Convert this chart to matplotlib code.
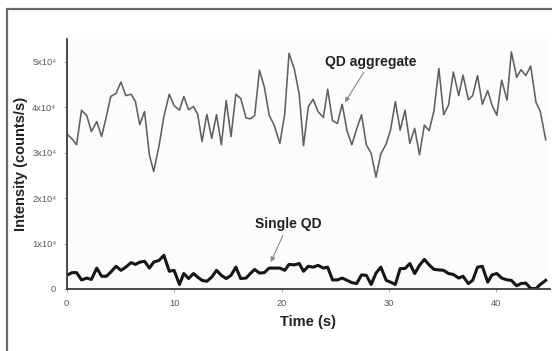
import matplotlib
matplotlib.use("Agg")
import matplotlib.pyplot as plt
from matplotlib.patches import Rectangle

plt.rcParams['font.family'] = ['Liberation Sans', 'DejaVu Sans']

# Time axis (s)
time_s = [0, 0.5, 0.92, 1.38, 1.87, 2.3, 2.8, 3.25, 3.7, 4.1, 4.6, 5.05, 5.5, 6.0, 6.4,
          6.8, 7.25, 7.7, 8.1, 8.6, 9.05, 9.55, 10.0, 10.5, 10.9, 11.35, 11.8, 12.2,
          12.6, 13.05, 13.5, 13.95, 14.4, 14.85, 15.3, 15.75, 16.2, 16.7, 17.1, 17.5,
          17.95, 18.4, 18.85, 19.3, 19.85, 20.3, 20.7, 21.2, 21.65, 22.05, 22.5, 22.95,
          23.4, 23.9, 24.3, 24.75, 25.2, 25.65, 26.1, 26.55, 27.0, 27.45, 27.9, 28.35,
          28.8, 29.25, 29.75, 30.15, 30.6, 31.05, 31.5, 31.95, 32.4, 32.85, 33.3, 33.75,
          34.2, 34.65, 35.1, 35.55, 36.0, 36.5, 36.9, 37.4, 37.8, 38.25, 38.7, 39.2,
          39.6, 40.05, 40.5, 41.0, 41.4, 41.9, 42.3, 42.75, 43.2, 43.7, 44.1, 44.6]

# Intensity, thousands of counts/s
aggregate_k = [34.1, 33.0, 31.7, 39.3, 38.1, 34.6, 36.8, 33.5, 38.0, 42.3, 43.0, 45.5,
               42.5, 42.8, 41.2, 36.1, 39.0, 29.5, 25.8, 31.5, 37.9, 42.8, 40.3, 39.3,
               42.3, 39.4, 40.1, 38.4, 32.4, 38.4, 33.1, 38.3, 31.7, 41.4, 33.5, 42.8,
               41.9, 37.6, 37.4, 38.1, 48.1, 44.4, 38.2, 36.1, 32.0, 38.5, 51.8, 48.3,
               42.8, 31.5, 40.1, 41.7, 39.0, 37.7, 43.9, 37.0, 36.4, 40.6, 34.8, 31.7,
               35.2, 38.3, 31.7, 29.8, 24.6, 29.7, 31.9, 34.9, 41.2, 34.9, 39.3, 32.0,
               35.3, 29.5, 36.0, 34.8, 39.2, 48.5, 38.3, 40.4, 47.7, 42.5, 47.0, 41.6,
               42.5, 46.9, 40.6, 43.6, 40.4, 38.2, 45.9, 41.5, 52.1, 46.5, 48.2, 46.9,
               49.0, 41.0, 39.0, 32.8]

single_k = [3.0, 3.6, 3.6, 2.0, 2.4, 2.1, 4.6, 2.8, 2.8, 3.7, 5.0, 4.1, 4.8, 5.8, 5.4,
            5.9, 6.1, 4.6, 5.9, 6.3, 7.4, 3.9, 4.1, 1.0, 3.4, 2.3, 3.4, 2.6, 1.9, 1.7,
            2.6, 4.1, 3.0, 2.3, 3.0, 4.8, 2.3, 2.4, 3.4, 4.3, 3.5, 3.6, 4.6, 4.6, 4.6,
            4.1, 5.4, 5.3, 5.6, 3.9, 5.0, 4.8, 5.2, 4.6, 4.8, 2.0, 2.0, 2.4, 1.9, 1.4,
            1.2, 3.1, 3.0, 1.0, 3.5, 4.8, 1.9, 1.5, 1.0, 4.5, 4.5, 5.6, 3.4, 5.2, 6.5,
            5.3, 4.3, 4.2, 4.1, 3.4, 3.2, 2.4, 2.8, 1.2, 1.9, 4.8, 5.0, 1.5, 3.1, 3.4,
            2.4, 2.0, 1.9, 0.7, 1.2, 1.3, 0.1, 0.1, 1.0, 1.9]

y_ticks = [0, 10000, 20000, 30000, 40000, 50000]
y_tick_labels = ["0", "1x10⁴", "2x10⁴", "3x10⁴", "4x10⁴", "5x10⁴"]
x_ticks = [0, 10, 20, 30, 40]

aggregate = [v * 1000 for v in aggregate_k]
single = [v * 1000 for v in single_k]

fig = plt.figure(figsize=(5.52, 3.51), dpi=100)
fig.patch.set_facecolor("white")

# grey frame around the figure
fig.patches.append(Rectangle((7 / 552, -0.1), 1.2, 1 - 9 / 351 + 0.1,
                             transform=fig.transFigure, fill=False,
                             edgecolor="#6a6a6a", linewidth=1.6))

ax = fig.add_axes([66.7 / 552, 1 - 289 / 351, (550 - 66.7) / 552, (289 - 38.75) / 351])
ax.set_facecolor("#fcfcfc")

ax.plot(time_s, aggregate, color="#606060", linewidth=1.15)
ax.plot(time_s, single, color="#151515", linewidth=2.2)

ax.set_xlim(0, 45)
ax.set_ylim(0, 55000)

for side in ("top", "right"):
    ax.spines[side].set_visible(False)
for side in ("left", "bottom"):
    ax.spines[side].set_color("#3a3a3a")
    ax.spines[side].set_linewidth(1.3)

ax.set_yticks(y_ticks)
ax.set_yticklabels(y_tick_labels)
ax.set_xticks(x_ticks)
ax.tick_params(axis="both", colors="#9a9a9a", labelcolor="#5a5a5a",
               labelsize=6.7, length=2.5, width=0.6)
ax.tick_params(axis="y", pad=5)
ax.tick_params(axis="x", pad=5)

ax.set_xlabel("Time (s)", fontsize=10.5, fontweight="bold", color="#222222", labelpad=5)
ax.set_ylabel("Intensity (counts/s)", fontsize=10.5, fontweight="bold",
              color="#222222", labelpad=3)

arrow_style = dict(arrowstyle="-|>", color="#8a8a8a", lw=0.8,
                   mutation_scale=7, shrinkA=1, shrinkB=0)
ax.annotate("QD aggregate", xy=(25.9, 41000), xytext=(28.3, 50000),
            ha="center", va="center", fontsize=10, fontweight="bold",
            color="#222222", arrowprops=arrow_style)
ax.annotate("Single QD", xy=(19.0, 5900), xytext=(20.6, 14200),
            ha="center", va="center", fontsize=10, fontweight="bold",
            color="#222222", arrowprops=arrow_style)

fig.savefig("out.png", dpi=100)
